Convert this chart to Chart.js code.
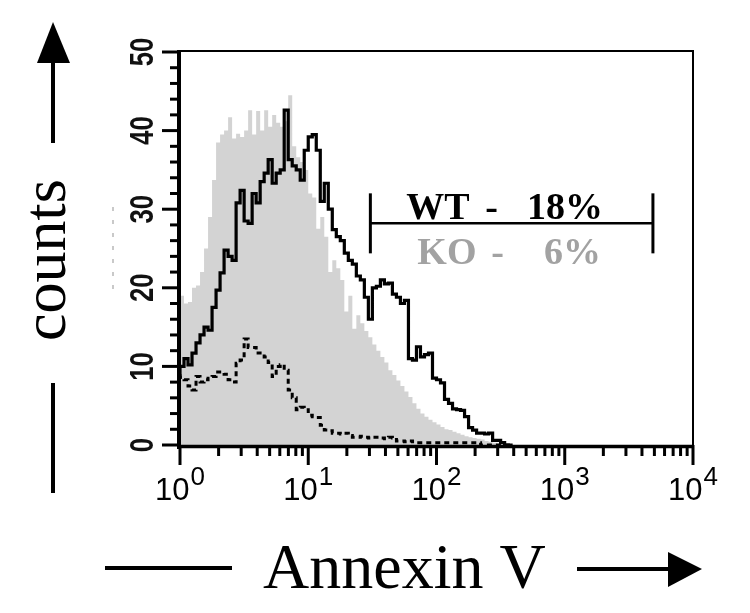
<!DOCTYPE html>
<html><head><meta charset="utf-8">
<script src="https://cdn.jsdelivr.net/npm/chart.js@4"></script>
<style>html,body{margin:0;padding:0;background:#fff}canvas{display:block}</style>
</head><body>
<canvas id="c" width="750" height="613"></canvas>
<script>
// histogram channels: 32 bins per decade, bin i starts at 10^(i/32)
const binsPerDecade = 32;
const koCounts = [19.5,19,18,18.2,20,20.3,22,25,29,33.7,38.5,39.5,40,41.7,39,39.6,39.2,40,42.6,39.5,
  42.5,40,42.6,40.5,42,41,40.5,41.2,44.5,38,36.6,36,35,32,31.5,27.5,29,26.5,22,23.5,
  22.5,21,17,19,14.8,16.5,15.5,14.5,13.7,12.8,12,11.2,10.5,9.5,8.9,8.2,7.5,6.8,6.1,5.3,
  4.6,4.0,3.6,3.2,2.9,2.6,2.3,2.0,1.9,1.7,1.5,1.3,1.1,1.0,0.9,0.8,0.7,0.5,0.4,0.3,0.2,0,0];
const wtCounts = [8.5,10,11,10.2,11.7,13,14,15,14.6,17.5,19.7,21.9,24.8,24,23.5,30.8,32.4,28.5,28.2,32,
  30.8,33.5,34.6,36.3,33.3,34.6,35,42.6,36.3,35.5,35,33.7,37.5,39.2,39.5,37.5,31,33.3,30,27.4,
  26.5,26,24.4,23.5,23,21.5,21,18.8,16,20,20.2,21,20.5,20.6,19.2,18.8,18,18.4,11,10.8,
  12.5,11.2,11.5,11.7,8.5,8.3,7.9,5.8,5.3,4.6,4.5,4.4,3.6,2.2,1.9,1.5,1.5,1.4,1.5,0.6,0.6,0.3,0];
const ctrlCounts = [9,8.6,8.3,7.5,7,8.7,8,8.3,8.5,8.7,9.3,9.3,9,8.3,8,10.4,10.8,13.5,12.4,12.4,
  11.7,11.7,11.2,10.5,8.7,10,10.2,9.5,7,6,4.5,4.8,4.5,3.8,3.6,3.5,2.5,1.9,1.8,1.5,
  1.5,1.4,1.5,1.2,1.0,1.0,1.1,1.0,0.9,1.0,1.0,0.9,0.8,1.0,0.9,0.5,0.5,0.4,0.5,0.4,
  0.3,0.3,0.3,0.3,0.3,0.3,0.3,0.3,0.3,0.3,0.3,0.3,0.3,0.3,0.3,0.3,0,0,0,0,0,0,0];
const xTickExponents = [0,1,2,3,4];
const yTickLabels = [0,10,20,30,40,50];
const gateRange = [30.5, 4870];
const gateLevel = 28.2;
const wtLabel = ['WT', '-', '18%'];
const koLabel = ['KO', '-', '6%'];
const xTitle = 'Annexin V';
const yTitle = 'counts';

function toPoints(arr){
  const pts = arr.map((v,i)=>({x: Math.pow(10, i/binsPerDecade), y: v}));
  pts.push({x: Math.pow(10, arr.length/binsPerDecade), y: arr[arr.length-1]});
  return pts;
}

const decor = {
  id: 'decor',
  afterDraw(chart){
    const ctx = chart.ctx, xs = chart.scales.x, ys = chart.scales.y;
    const L = xs.getPixelForValue(1), R = xs.getPixelForValue(10000);
    const B = ys.getPixelForValue(0), T = ys.getPixelForValue(50);
    ctx.save();
    ctx.strokeStyle = '#000'; ctx.fillStyle = '#000'; ctx.lineCap = 'butt';
    // frame
    ctx.lineWidth = 2;
    ctx.beginPath(); ctx.moveTo(L, T-1); ctx.lineTo(R, T-1); ctx.lineTo(R, B); ctx.stroke();
    ctx.lineWidth = 4;
    ctx.beginPath(); ctx.moveTo(L-1, T-2); ctx.lineTo(L-1, B+4); ctx.stroke();
    ctx.lineWidth = 3.5;
    ctx.beginPath(); ctx.moveTo(L-3, B+1.5); ctx.lineTo(R+1, B+1.5); ctx.stroke();
    // x ticks
    ctx.lineWidth = 3;
    for (let d = 0; d <= 4; d++){
      const base = Math.pow(10, d);
      let p = xs.getPixelForValue(base);
      ctx.beginPath(); ctx.moveTo(p, B); ctx.lineTo(p, B+20); ctx.stroke();
      if (d < 4) for (let k = 2; k <= 9; k++){
        p = xs.getPixelForValue(k*base);
        ctx.beginPath(); ctx.moveTo(p, B); ctx.lineTo(p, B+11); ctx.stroke();
      }
    }
    // y ticks
    for (let v = 0; v <= 50; v += 2){
      const p = ys.getPixelForValue(v);
      const major = v % 10 === 0;
      ctx.beginPath(); ctx.moveTo(L, p); ctx.lineTo(L - (major ? 18 : 10), p); ctx.stroke();
    }
    // x tick labels
    ctx.textBaseline = 'alphabetic'; ctx.textAlign = 'left';
    xTickExponents.forEach(e => {
      const p = xs.getPixelForValue(Math.pow(10, e));
      ctx.font = '31px "Liberation Sans", Arial, sans-serif';
      ctx.fillText('10', p - 25, 500);
      const w = ctx.measureText('10').width;
      ctx.font = '26px "Liberation Sans", Arial, sans-serif';
      ctx.fillText(String(e), p - 25 + w + 1, 485);
    });
    // y tick labels (rotated, condensed)
    yTickLabels.forEach(v => {
      const p = ys.getPixelForValue(v);
      ctx.save();
      ctx.translate(153, p); ctx.rotate(-Math.PI/2); ctx.scale(0.78, 1);
      ctx.font = 'bold 33px "Liberation Sans", Arial, sans-serif';
      ctx.textAlign = 'center'; ctx.textBaseline = 'alphabetic';
      ctx.fillStyle = '#111';
      ctx.fillText(String(v), 0, 0);
      ctx.restore();
    });
    // faint artifact
    ctx.save();
    ctx.strokeStyle = '#b8b8b8'; ctx.lineWidth = 1.5; ctx.setLineDash([4,9]);
    ctx.beginPath(); ctx.moveTo(113, 207); ctx.lineTo(113, 298); ctx.stroke();
    ctx.restore();
    // gate marker
    const gx1 = xs.getPixelForValue(gateRange[0]), gx2 = xs.getPixelForValue(gateRange[1]);
    const gy = ys.getPixelForValue(gateLevel);
    ctx.lineWidth = 2.5;
    ctx.beginPath(); ctx.moveTo(gx1, gy); ctx.lineTo(gx2, gy); ctx.stroke();
    ctx.lineWidth = 3;
    ctx.beginPath(); ctx.moveTo(gx1, gy-30); ctx.lineTo(gx1, gy+30); ctx.stroke();
    ctx.beginPath(); ctx.moveTo(gx2, gy-30); ctx.lineTo(gx2, gy+30); ctx.stroke();
    ctx.font = 'bold 38px "Liberation Serif", "Times New Roman", serif';
    ctx.fillStyle = '#000';
    ctx.textAlign = 'left';
    ctx.fillText(wtLabel[0], gx1 + 36, gy - 4);
    ctx.fillText(wtLabel[1], gx1 + 115, gy - 4);
    ctx.textAlign = 'right';
    ctx.fillText(wtLabel[2], gx2 - 50, gy - 4);
    ctx.fillStyle = '#a2a2a2';
    ctx.textAlign = 'left';
    ctx.fillText(koLabel[0], gx1 + 47, gy + 41);
    ctx.fillText(koLabel[1], gx1 + 121, gy + 41);
    ctx.textAlign = 'right';
    ctx.fillText(koLabel[2], gx2 - 52, gy + 41);
    // axis titles with arrows
    ctx.fillStyle = '#000'; ctx.strokeStyle = '#000'; ctx.lineWidth = 4;
    ctx.font = '64px "Liberation Serif", "Times New Roman", serif';
    ctx.textAlign = 'left'; ctx.textBaseline = 'alphabetic';
    ctx.fillText(xTitle, 263, 588);
    ctx.beginPath(); ctx.moveTo(105, 568); ctx.lineTo(232, 568); ctx.stroke();
    ctx.beginPath(); ctx.moveTo(577, 569); ctx.lineTo(670, 569); ctx.stroke();
    ctx.beginPath(); ctx.moveTo(668, 552); ctx.lineTo(702, 569); ctx.lineTo(668, 587); ctx.closePath(); ctx.fill();
    ctx.save();
    ctx.translate(65, 260); ctx.rotate(-Math.PI/2);
    ctx.font = '62px "Liberation Serif", "Times New Roman", serif';
    ctx.textAlign = 'center';
    ctx.fillText(yTitle, 0, 0);
    ctx.restore();
    ctx.beginPath(); ctx.moveTo(53, 143); ctx.lineTo(53, 60); ctx.stroke();
    ctx.beginPath(); ctx.moveTo(53, 22); ctx.lineTo(37, 63); ctx.lineTo(70, 63); ctx.closePath(); ctx.fill();
    ctx.beginPath(); ctx.moveTo(53, 383); ctx.lineTo(53, 493); ctx.stroke();
    ctx.restore();
  }
};

new Chart(document.getElementById('c'), {
  type: 'line',
  data: {
    datasets: [
      { label: 'control', data: toPoints(ctrlCounts), stepped: 'after', borderColor: '#000',
        borderWidth: 3, borderDash: [5,4], pointRadius: 0, fill: false, order: 1 },
      { label: 'WT', data: toPoints(wtCounts), stepped: 'after', borderColor: '#000',
        borderWidth: 3.2, pointRadius: 0, fill: false, order: 2 },
      { label: 'KO', data: toPoints(koCounts), stepped: 'after', borderColor: 'rgba(0,0,0,0)',
        borderWidth: 0, backgroundColor: '#d3d3d3', pointRadius: 0, fill: 'origin', order: 3 }
    ]
  },
  options: {
    responsive: false,
    animation: false,
    devicePixelRatio: 1,
    layout: { padding: { left: 180, right: 57, top: 52, bottom: 168 } },
    plugins: { legend: { display: false }, tooltip: { enabled: false } },
    scales: {
      x: { type: 'logarithmic', min: 1, max: 10000, display: false },
      y: { type: 'linear', min: 0, max: 50, display: false }
    }
  },
  plugins: [decor]
});
</script>
</body></html>
